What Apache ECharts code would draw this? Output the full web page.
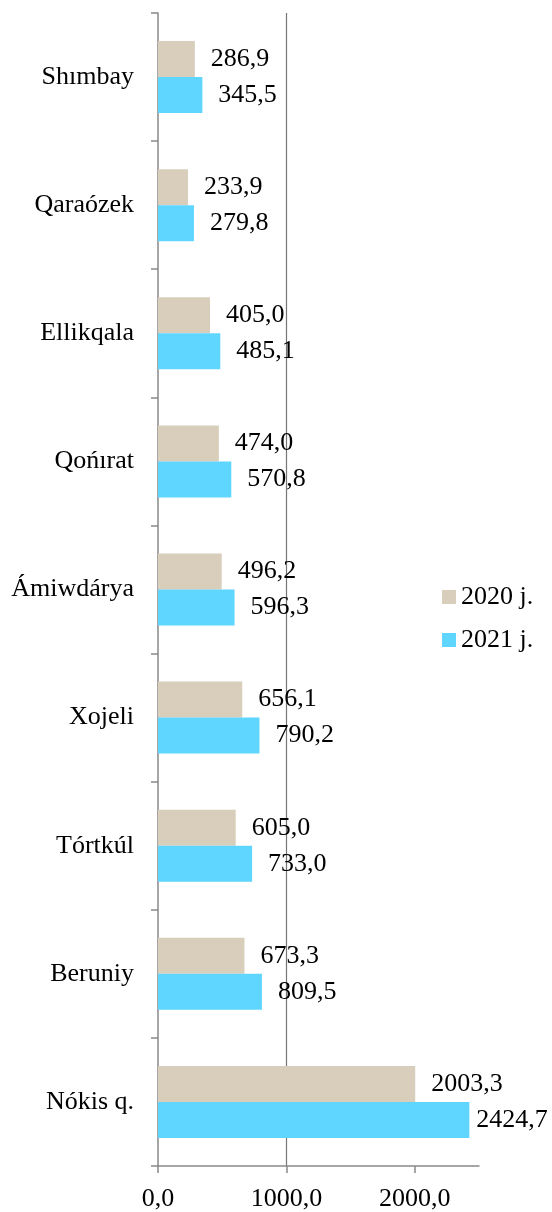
<!DOCTYPE html>
<html>
<head>
<meta charset="utf-8">
<script src="https://cdn.jsdelivr.net/npm/echarts@6/dist/echarts.min.js"></script>
<style>
  html, body { margin: 0; padding: 0; background: #fff; }
  #chart { width: 552px; height: 1212px; }
</style>
</head>
<body>
<div id="chart"></div>
<script>
// districts, top to bottom as in the picture
const districts = ["Shımbay", "Qaraózek", "Ellikqala", "Qońırat", "Ámiwdárya", "Xojeli", "Tórtkúl", "Beruniy", "Nókis q."];
const values2020 = [286.9, 233.9, 405.0, 474.0, 496.2, 656.1, 605.0, 673.3, 2003.3];
const values2021 = [345.5, 279.8, 485.1, 570.8, 596.3, 790.2, 733.0, 809.5, 2424.7];
const xTicks = [0, 1000, 2000];

const FONT = "Liberation Serif";
const fmt = (v) => Number(v).toFixed(1).replace(".", ",");

// the longest bar's label is pulled in so it fits the page
const barData = (vals) =>
  vals.map((v) => (v > 2200 ? { value: v, label: { distance: 7 } } : v));

const labelStyle = {
  show: true,
  position: "right",
  distance: 16,
  fontFamily: FONT,
  fontSize: 26,
  color: "#000",
  formatter: (p) => fmt(p.value),
};

const chart = echarts.init(document.getElementById("chart"));
chart.setOption({
  animation: false,
  textStyle: { fontFamily: FONT, color: "#000" },
  grid: { left: 158, right: 73, top: 13, bottom: 45, containLabel: false },
  legend: {
    orient: "vertical",
    left: 437,
    top: 579,
    itemWidth: 14,
    itemHeight: 14,
    itemGap: 17,
    icon: "rect",
    data: ["2020 j.", "2021 j."],
    textStyle: { fontFamily: FONT, fontSize: 26, color: "#000" },
  },
  xAxis: {
    type: "value",
    min: 0,
    max: 2500,
    interval: 1000,
    axisLine: { show: true, lineStyle: { color: "#898989", width: 1.5 } },
    axisTick: { show: true, length: 7, customValues: xTicks, lineStyle: { color: "#898989", width: 1.5 } },
    axisLabel: {
      customValues: xTicks,
      margin: 20,
      fontFamily: FONT,
      fontSize: 26,
      color: "#000",
      formatter: fmt,
    },
    splitLine: { show: true, showMinLine: false, showMaxLine: false, lineStyle: { color: "#767676", width: 1.2 } },
  },
  yAxis: {
    type: "category",
    inverse: true,
    data: districts,
    axisLine: { show: true, lineStyle: { color: "#898989", width: 1.5 } },
    axisTick: { show: true, length: 7, lineStyle: { color: "#898989", width: 1.5 } },
    axisLabel: { margin: 24, fontFamily: FONT, fontSize: 26, color: "#000" },
  },
  series: [
    {
      name: "2020 j.",
      type: "bar",
      data: barData(values2020),
      barWidth: 36,
      barGap: "0%",
      itemStyle: { color: "#d8cebb" },
      label: labelStyle,
    },
    {
      name: "2021 j.",
      type: "bar",
      data: barData(values2021),
      barWidth: 36,
      barGap: "0%",
      itemStyle: { color: "#5fd6ff" },
      label: labelStyle,
    },
  ],
});
</script>
</body>
</html>
